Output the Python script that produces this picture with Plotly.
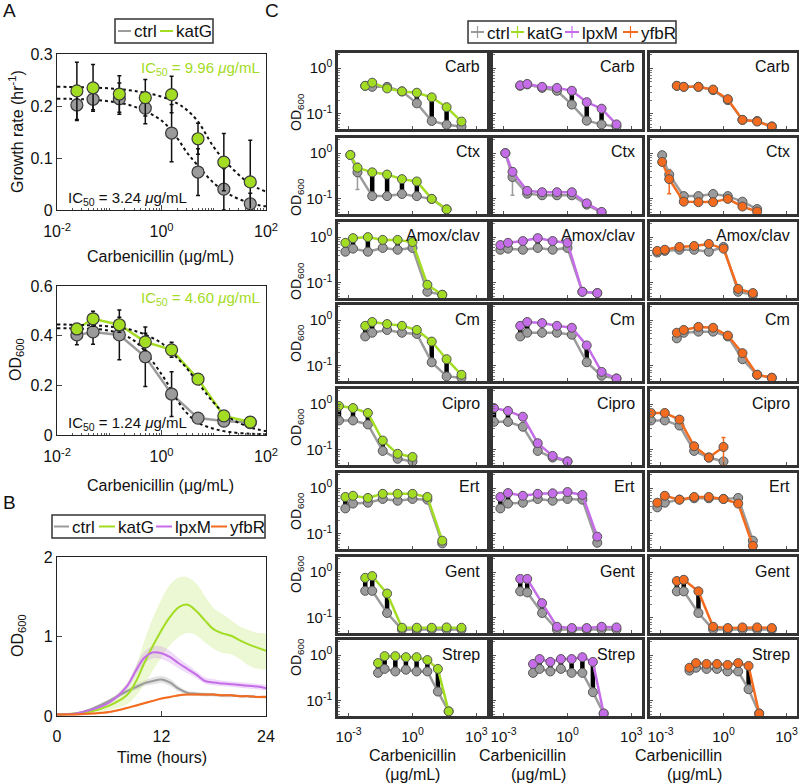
import plotly.graph_objects as go

W, H = 799, 783
FONT = "Liberation Sans, Arial, sans-serif"

GREY = "#9b9b9b"
EDGE = "#3a3a3a"
COLORS = {"katG": "#a2dc23", "lpxM": "#c56de8", "yfbR": "#f26b1f"}
MUTANTS = ["katG", "lpxM", "yfbR"]

# ---------------- panel A data ----------------
conc_a = [0.024, 0.049, 0.156, 0.49, 1.56, 5.0, 15.6, 50]
growth_ctrl = [0.202, 0.213, 0.214, 0.196, 0.148, 0.073, 0.040, 0.012]
growth_ctrl_err = [0.03, 0.02, 0.03, 0.03, 0.055, 0.045, 0.04, 0.02]
growth_katg = [0.229, 0.235, 0.223, 0.216, 0.222, 0.137, 0.092, 0.054]
growth_katg_err = [0.055, 0.045, 0.035, 0.035, 0.035, 0.03, 0.055, 0.08]
od_ctrl = [0.403, 0.415, 0.403, 0.315, 0.165, 0.068, 0.056, 0.050]
od_ctrl_err = [0.04, 0.05, 0.10, 0.12, 0.09, 0.01, 0.01, 0.008]
od_katg = [0.427, 0.468, 0.444, 0.375, 0.343, 0.225, 0.077, 0.052]
od_katg_err = [0.015, 0.03, 0.03, 0.035, 0.03, 0.02, 0.01, 0.008]

fit_x = [0.01, 0.03, 0.1, 0.3, 1, 2, 3, 5, 10, 20, 50, 100]
fit_growth_ctrl = [0.214, 0.213, 0.209, 0.199, 0.172, 0.138, 0.112, 0.085, 0.052, 0.030, 0.013, 0.007]
fit_growth_katg = [0.237, 0.236, 0.234, 0.229, 0.218, 0.205, 0.193, 0.170, 0.121, 0.085, 0.050, 0.035]
fit_od_ctrl = [0.430, 0.428, 0.420, 0.380, 0.245, 0.140, 0.090, 0.050, 0.025, 0.012, 0.005, 0.003]
fit_od_katg = [0.445, 0.443, 0.437, 0.420, 0.370, 0.310, 0.270, 0.210, 0.130, 0.070, 0.030, 0.016]

# ---------------- panel B data ----------------
time_h = [0, 2, 4, 6, 8, 9, 10, 11, 12, 13, 14, 15, 16, 17, 18, 19, 20, 21, 22, 23, 24]
curve_ctrl = [0.02, 0.03, 0.09, 0.19, 0.31, 0.36, 0.41, 0.44, 0.46, 0.42, 0.34, 0.29, 0.28, 0.27, 0.27, 0.26, 0.26, 0.25, 0.25, 0.24, 0.24]
curve_ctrl_hi = [0.02, 0.03, 0.10, 0.21, 0.33, 0.39, 0.44, 0.48, 0.50, 0.46, 0.37, 0.31, 0.30, 0.29, 0.28, 0.27, 0.27, 0.26, 0.26, 0.25, 0.25]
curve_ctrl_lo = [0.01, 0.02, 0.08, 0.17, 0.29, 0.33, 0.38, 0.40, 0.42, 0.38, 0.31, 0.27, 0.26, 0.25, 0.25, 0.24, 0.24, 0.24, 0.23, 0.23, 0.23]
curve_katg = [0.02, 0.03, 0.06, 0.13, 0.26, 0.42, 0.66, 0.88, 1.08, 1.25, 1.37, 1.40, 1.32, 1.20, 1.09, 1.04, 1.01, 0.95, 0.90, 0.86, 0.82]
curve_katg_hi = [0.03, 0.04, 0.08, 0.20, 0.40, 0.60, 0.92, 1.22, 1.46, 1.65, 1.74, 1.74, 1.66, 1.50, 1.35, 1.28, 1.20, 1.12, 1.08, 1.04, 1.02]
curve_katg_lo = [0.01, 0.02, 0.04, 0.08, 0.15, 0.25, 0.40, 0.58, 0.75, 0.90, 1.00, 1.05, 1.02, 0.93, 0.85, 0.80, 0.78, 0.72, 0.64, 0.60, 0.60]
curve_lpxm = [0.02, 0.03, 0.08, 0.17, 0.37, 0.56, 0.73, 0.80, 0.79, 0.74, 0.66, 0.59, 0.52, 0.44, 0.42, 0.41, 0.40, 0.39, 0.38, 0.37, 0.35]
curve_lpxm_hi = [0.02, 0.03, 0.09, 0.19, 0.40, 0.61, 0.80, 0.87, 0.87, 0.81, 0.72, 0.64, 0.56, 0.48, 0.46, 0.44, 0.43, 0.42, 0.41, 0.40, 0.38]
curve_lpxm_lo = [0.01, 0.02, 0.07, 0.15, 0.34, 0.51, 0.66, 0.73, 0.72, 0.67, 0.60, 0.54, 0.48, 0.41, 0.39, 0.38, 0.37, 0.36, 0.35, 0.34, 0.33]
curve_yfbr = [0.02, 0.02, 0.03, 0.05, 0.10, 0.13, 0.16, 0.19, 0.22, 0.24, 0.26, 0.27, 0.27, 0.27, 0.27, 0.26, 0.26, 0.25, 0.25, 0.24, 0.24]
curve_yfbr_hi = [0.02, 0.03, 0.04, 0.06, 0.11, 0.14, 0.17, 0.20, 0.23, 0.25, 0.27, 0.28, 0.28, 0.28, 0.28, 0.27, 0.27, 0.26, 0.26, 0.25, 0.25]
curve_yfbr_lo = [0.01, 0.01, 0.02, 0.04, 0.09, 0.12, 0.15, 0.18, 0.21, 0.23, 0.25, 0.26, 0.26, 0.26, 0.26, 0.25, 0.25, 0.24, 0.24, 0.23, 0.23]

# ---------------- panel C data ----------------
antibiotics = ["Carb", "Ctx", "Amox/clav", "Cm", "Cipro", "Ert", "Gent", "Strep"]
conc_c = {
    "Carb": [0.006, 0.0128, 0.064, 0.32, 1.6, 8, 40, 200],
    "Ctx": [0.0012, 0.0026, 0.0128, 0.064, 0.32, 1.6, 8, 40],
    "Amox/clav": [0.0007, 0.0016, 0.008, 0.04, 0.2, 1, 5, 25],
    "Cm": [0.006, 0.0128, 0.064, 0.32, 1.6, 8, 40, 200],
    "Cipro": [0.00035, 0.0016, 0.008, 0.04, 0.2, 1],
    "Ert": [0.0007, 0.0016, 0.008, 0.04, 0.2, 1, 5, 25],
    "Gent": [0.006, 0.0128, 0.064, 0.32, 1.6, 8, 40, 200],
    "Strep": [0.024, 0.049, 0.156, 0.49, 1.56, 5, 15.6, 50],
}
# one list per column (katG, lpxM, yfbR experiments)
ctrl_c = {
    "Carb": [[0.41, 0.39, 0.39, 0.31, 0.17, 0.07, 0.058, 0.053],
             [0.41, 0.44, 0.37, 0.32, 0.16, 0.071, 0.059, 0.053],
             [0.41, 0.39, 0.39, 0.33, 0.20, 0.074, 0.07, 0.053]],
    "Ctx": [[0.91, 0.38, 0.115, 0.115, 0.128, 0.115, 0.10, 0.059],
            [1.0, 0.30, 0.13, 0.12, 0.12, 0.12, 0.075, 0.05],
            [0.90, 0.34, 0.115, 0.115, 0.128, 0.115, 0.087, 0.06]],
    "Amox/clav": [[0.48, 0.56, 0.48, 0.58, 0.53, 0.58, 0.064, 0.055],
                  [0.53, 0.56, 0.53, 0.58, 0.53, 0.58, 0.064, 0.06],
                  [0.46, 0.50, 0.53, 0.53, 0.48, 0.61, 0.064, 0.055]],
    "Cm": [[0.44, 0.53, 0.61, 0.53, 0.50, 0.12, 0.059, 0.055],
           [0.44, 0.53, 0.53, 0.53, 0.48, 0.12, 0.061, 0.053],
           [0.40, 0.53, 0.56, 0.56, 0.44, 0.14, 0.064, 0.055]],
    "Cipro": [[0.44, 0.44, 0.36, 0.095, 0.064, 0.056],
              [0.41, 0.41, 0.32, 0.095, 0.068, 0.056],
              [0.44, 0.44, 0.34, 0.095, 0.068, 0.056]],
    "Ert": [[0.36, 0.46, 0.48, 0.58, 0.53, 0.58, 0.56, 0.062],
            [0.36, 0.46, 0.48, 0.58, 0.53, 0.58, 0.56, 0.064],
            [0.38, 0.48, 0.56, 0.60, 0.60, 0.58, 0.61, 0.071]],
    "Gent": [[0.39, 0.39, 0.128, 0.056, 0.056, 0.056, 0.056, 0.056],
             [0.38, 0.36, 0.128, 0.056, 0.056, 0.056, 0.056, 0.056],
             [0.38, 0.38, 0.128, 0.056, 0.056, 0.056, 0.056, 0.056]],
    "Strep": [[0.41, 0.50, 0.44, 0.48, 0.44, 0.44, 0.16, 0.059],
              [0.41, 0.50, 0.44, 0.50, 0.41, 0.41, 0.155, 0.053],
              [0.46, 0.53, 0.50, 0.50, 0.44, 0.44, 0.18, 0.053]],
}
mut_c = {
    "Carb": [[0.41, 0.48, 0.36, 0.31, 0.29, 0.23, 0.14, 0.068],
             [0.42, 0.45, 0.39, 0.37, 0.32, 0.18, 0.13, 0.059],
             [0.41, 0.39, 0.39, 0.34, 0.21, 0.074, 0.068, 0.053]],
    "Ctx": [[0.91, 0.48, 0.38, 0.34, 0.27, 0.24, 0.10, 0.059],
            [1.0, 0.39, 0.15, 0.14, 0.14, 0.14, 0.08, 0.052],
            [0.64, 0.27, 0.087, 0.085, 0.085, 0.10, 0.068, 0.053]],
    "Amox/clav": [[0.75, 0.95, 1.0, 0.87, 0.87, 0.78, 0.091, 0.055],
                  [0.67, 0.75, 0.82, 0.95, 0.82, 0.75, 0.064, 0.06],
                  [0.50, 0.53, 0.61, 0.64, 0.71, 0.56, 0.074, 0.06]],
    "Cm": [[0.75, 0.91, 0.82, 0.75, 0.61, 0.34, 0.14, 0.064],
           [0.75, 0.91, 0.86, 0.75, 0.68, 0.28, 0.074, 0.053],
           [0.53, 0.61, 0.71, 0.68, 0.46, 0.19, 0.064, 0.055]],
    "Cipro": [[0.91, 0.82, 0.64, 0.16, 0.082, 0.07],
              [0.82, 0.71, 0.53, 0.14, 0.074, 0.056],
              [0.64, 0.64, 0.46, 0.12, 0.068, 0.116]],
    "Ert": [[0.64, 0.68, 0.61, 0.75, 0.75, 0.75, 0.64, 0.071],
            [0.64, 0.78, 0.68, 0.75, 0.77, 0.82, 0.71, 0.087],
            [0.48, 0.68, 0.56, 0.64, 0.64, 0.58, 0.46, 0.055]],
    "Gent": [[0.75, 0.82, 0.34, 0.061, 0.061, 0.061, 0.062, 0.061],
             [0.71, 0.71, 0.21, 0.064, 0.06, 0.06, 0.064, 0.062],
             [0.64, 0.68, 0.38, 0.064, 0.06, 0.062, 0.062, 0.06]],
    "Strep": [[0.67, 0.95, 0.95, 0.90, 0.90, 0.78, 0.50, 0.059],
              [0.64, 0.82, 0.71, 0.82, 0.82, 0.90, 0.71, 0.053],
              [0.53, 0.67, 0.64, 0.64, 0.61, 0.67, 0.58, 0.053]],
}
# indices of significant differences (black bars)
signif_c = {
    "Carb": [[4, 5, 6], [4, 5, 6], []],
    "Ctx": [[2, 3, 4, 5], [], []],
    "Amox/clav": [[0, 1, 2, 3, 4], [0, 1, 3, 4], []],
    "Cm": [[0, 1, 5, 6], [0, 1, 5], [5]],
    "Cipro": [[0, 1, 2, 3], [0, 1, 3], []],
    "Ert": [[0, 1], [0, 1], []],
    "Gent": [[0, 1, 2], [0, 1, 2], [0, 1, 2]],
    "Strep": [[0, 1, 2, 3, 4, 5, 6], [0, 1, 2, 3, 4, 5, 6], [5, 6]],
}
# (antibiotic, column, series, point index, error)
errors_c = [("Ctx", 0, "ctrl", 1, 0.22), ("Ctx", 1, "ctrl", 1, 0.18),
            ("Ctx", 2, "mut", 1, 0.14), ("Ctx", 2, "ctrl", 1, 0.1),
            ("Cipro", 2, "mut", 5, 0.07), ("Carb", 2, "mut", 4, 0.04)]


def px(x):
    return x / W


def py(y):
    return 1 - y / H


fig = go.Figure()
layout = {}
annotations = []
shapes = []


def add_axes(n, x0, x1, top, bottom, xopts, yopts):
    key = "" if n == 1 else str(n)
    xa = dict(domain=[px(x0), px(x1)], anchor="y" + key, showline=True, mirror=True,
              ticks="inside", showgrid=False, zeroline=False, automargin=False,
              tickfont=dict(family=FONT, size=16, color="#111"))
    ya = dict(domain=[py(bottom), py(top)], anchor="x" + key, showline=True, mirror=True,
              ticks="inside", showgrid=False, zeroline=False, automargin=False,
              tickfont=dict(family=FONT, size=16, color="#111"))
    xa.update(xopts)
    ya.update(yopts)
    layout["xaxis" + key] = xa
    layout["yaxis" + key] = ya
    return "x" + key, "y" + key


log_ticks_a = dict(type="log", range=[-2, 2], tickvals=[0.01, 1, 100],
                   ticktext=["10<sup>-2</sup>", "10<sup>0</sup>", "10<sup>2</sup>"],
                   linecolor="#222", linewidth=1.2, ticklen=5, ticklabelstandoff=7,
                   minor=dict(ticks="inside", ticklen=2, dtick="D1", tickcolor="#555"))

# ---- A top: growth rate
xa, ya = add_axes(1, 57, 266, 54, 210, log_ticks_a,
                  dict(range=[0, 0.3], tickvals=[0, 0.1, 0.2, 0.3], ticklen=5,
                       linecolor="#222", linewidth=1.2))
fig.add_trace(go.Scatter(x=fit_x, y=fit_growth_ctrl, mode="lines", line=dict(color="#111", dash="dot", width=2, shape="spline"), xaxis=xa, yaxis=ya, showlegend=False))
fig.add_trace(go.Scatter(x=fit_x, y=fit_growth_katg, mode="lines", line=dict(color="#111", dash="dot", width=2, shape="spline"), xaxis=xa, yaxis=ya, showlegend=False))
fig.add_trace(go.Scatter(x=conc_a, y=growth_ctrl, mode="markers",
                         error_y=dict(type="data", array=growth_ctrl_err, color="#111", thickness=1.5, width=2),
                         marker=dict(color=GREY, size=12, line=dict(color=EDGE, width=1.2)),
                         xaxis=xa, yaxis=ya, showlegend=False))
fig.add_trace(go.Scatter(x=conc_a, y=growth_katg, mode="markers",
                         error_y=dict(type="data", array=growth_katg_err, color="#111", thickness=1.5, width=2),
                         marker=dict(color=COLORS["katG"], size=12, line=dict(color=EDGE, width=1.2)),
                         xaxis=xa, yaxis=ya, showlegend=False))

# ---- A bottom: OD
xa, ya = add_axes(2, 57, 266, 286, 435, log_ticks_a,
                  dict(range=[0, 0.6], tickvals=[0, 0.2, 0.4, 0.6], ticklen=5,
                       linecolor="#222", linewidth=1.2))
fig.add_trace(go.Scatter(x=conc_a, y=od_ctrl, mode="lines", line=dict(color=GREY, width=2.5), xaxis=xa, yaxis=ya, showlegend=False))
fig.add_trace(go.Scatter(x=conc_a, y=od_katg, mode="lines", line=dict(color=COLORS["katG"], width=2.5), xaxis=xa, yaxis=ya, showlegend=False))
fig.add_trace(go.Scatter(x=fit_x, y=fit_od_ctrl, mode="lines", line=dict(color="#111", dash="dot", width=2, shape="spline"), xaxis=xa, yaxis=ya, showlegend=False))
fig.add_trace(go.Scatter(x=fit_x, y=fit_od_katg, mode="lines", line=dict(color="#111", dash="dot", width=2, shape="spline"), xaxis=xa, yaxis=ya, showlegend=False))
fig.add_trace(go.Scatter(x=conc_a, y=od_ctrl, mode="markers",
                         error_y=dict(type="data", array=od_ctrl_err, color="#111", thickness=1.5, width=2),
                         marker=dict(color=GREY, size=12, line=dict(color=EDGE, width=1.2)),
                         xaxis=xa, yaxis=ya, showlegend=False))
fig.add_trace(go.Scatter(x=conc_a, y=od_katg, mode="markers",
                         error_y=dict(type="data", array=od_katg_err, color="#111", thickness=1.5, width=2),
                         marker=dict(color=COLORS["katG"], size=12, line=dict(color=EDGE, width=1.2)),
                         xaxis=xa, yaxis=ya, showlegend=False))

# ---- B: growth curves
xa, ya = add_axes(3, 57, 266, 557, 716,
                  dict(range=[0, 24], tickvals=[0, 12, 24], ticklen=5, linecolor="#222", linewidth=1.2,
                       ticklabelstandoff=6),
                  dict(range=[0, 2], tickvals=[0, 1, 2], ticklen=5, linecolor="#222", linewidth=1.2))
band_fill = {"ctrl": "rgba(150,150,150,0.25)", "katG": "rgba(170,225,60,0.22)",
             "lpxM": "rgba(200,120,235,0.25)", "yfbR": "rgba(242,107,31,0.25)"}
curves = [("ctrl", GREY, curve_ctrl, curve_ctrl_hi, curve_ctrl_lo),
          ("katG", COLORS["katG"], curve_katg, curve_katg_hi, curve_katg_lo),
          ("lpxM", COLORS["lpxM"], curve_lpxm, curve_lpxm_hi, curve_lpxm_lo),
          ("yfbR", COLORS["yfbR"], curve_yfbr, curve_yfbr_hi, curve_yfbr_lo)]
for name, col, mid, hi, lo in curves:
    fig.add_trace(go.Scatter(x=time_h + time_h[::-1], y=hi + lo[::-1], fill="toself",
                             fillcolor=band_fill[name], line=dict(width=0.5, color=band_fill[name], shape="spline"),
                             mode="lines", xaxis=xa, yaxis=ya, showlegend=False, hoverinfo="skip"))
for name, col, mid, hi, lo in curves:
    fig.add_trace(go.Scatter(x=time_h, y=mid, mode="lines", line=dict(color=col, width=2, shape="spline"),
                             xaxis=xa, yaxis=ya, showlegend=False))

# ---- C: grid of panels
col_x = [(338, 487), (493, 642), (650, 797)]
row_top = [53, 138, 222, 305, 389, 473, 557, 640]
row_h = 76
n = 4
for r, ab in enumerate(antibiotics):
    for c, mut in enumerate(MUTANTS):
        x0, x1 = col_x[c]
        top = row_top[r]
        bottom_row = r == len(antibiotics) - 1
        xopts = dict(type="log", range=[-3.5, 3.5], tickvals=[1e-3, 1, 1e3],
                     ticktext=["10<sup>-3</sup>", "10<sup>0</sup>", "10<sup>3</sup>"],
                     showticklabels=bottom_row, ticklen=3, linecolor="#333", linewidth=2.5,
                     tickcolor="#555", ticklabelstandoff=5,
                     tickfont=dict(family=FONT, size=15, color="#111"))
        yopts = dict(type="log", range=[-1.33, 0.33], tickvals=[0.1, 1],
                     ticktext=["10<sup>-1</sup>", "10<sup>0</sup>"],
                     showticklabels=(c == 0), ticklen=3, linecolor="#333", linewidth=2.5,
                     tickcolor="#555", tickfont=dict(family=FONT, size=15, color="#111"),
                     minor=dict(ticks="inside", ticklen=2, dtick="D1", tickcolor="#777"))
        xa, ya = add_axes(n, x0, x1, top, top + row_h, xopts, yopts)
        n += 1
        xs = conc_c[ab]
        yc = ctrl_c[ab][c]
        ym = mut_c[ab][c]
        bx, by = [], []
        for i in signif_c[ab][c]:
            bx += [xs[i], xs[i], None]
            by += [yc[i], ym[i], None]
        if bx:
            fig.add_trace(go.Scatter(x=bx, y=by, mode="lines", line=dict(color="#000", width=4.5),
                                     xaxis=xa, yaxis=ya, showlegend=False, hoverinfo="skip"))
        err_ctrl = [0] * len(xs)
        err_mut = [0] * len(xs)
        for e_ab, e_c, e_s, e_i, e_v in errors_c:
            if e_ab == ab and e_c == c:
                (err_ctrl if e_s == "ctrl" else err_mut)[e_i] = e_v
        fig.add_trace(go.Scatter(x=xs, y=yc, mode="lines+markers",
                                 line=dict(color=GREY, width=2.5),
                                 marker=dict(color=GREY, size=9, line=dict(color="#555", width=1)),
                                 error_y=dict(type="data", array=err_ctrl, color=GREY, thickness=1.5, width=2),
                                 xaxis=xa, yaxis=ya, showlegend=False))
        fig.add_trace(go.Scatter(x=xs, y=ym, mode="lines+markers",
                                 line=dict(color=COLORS[mut], width=2.5),
                                 marker=dict(color=COLORS[mut], size=9, line=dict(color="#555", width=1)),
                                 error_y=dict(type="data", array=err_mut, color=COLORS[mut], thickness=1.5, width=2),
                                 xaxis=xa, yaxis=ya, showlegend=False))
        annotations.append(dict(x=px(x1 - 5), y=py(top + 14), xref="paper", yref="paper",
                                text=ab, showarrow=False, xanchor="right", yanchor="middle",
                                font=dict(family=FONT, size=16, color="#111")))
        if c == 0:
            annotations.append(dict(x=px(297), y=py(top + row_h / 2), xref="paper", yref="paper",
                                    text="OD<sub>600</sub>", textangle=-90, showarrow=False,
                                    font=dict(family=FONT, size=14, color="#111")))
        if bottom_row:
            for line_txt, line_y in (("Carbenicillin", 755), ("(\u03bcg/mL)", 774)):
                annotations.append(dict(x=px((x0 + x1) / 2), y=py(line_y), xref="paper", yref="paper",
                                        text=line_txt, showarrow=False, yanchor="middle",
                                        font=dict(family=FONT, size=16, color="#111")))


def txt(x, y, s, size=16, color="#111", anchor="center", angle=0):
    annotations.append(dict(x=px(x), y=py(y), xref="paper", yref="paper", text=s, showarrow=False,
                            xanchor=anchor, yanchor="middle", textangle=angle,
                            font=dict(family=FONT, size=size, color=color)))


# panel letters
txt(9, 11, "A", 19)
txt(9, 502, "B", 19)
txt(272, 11, "C", 19)

# axis titles panel A / B
txt(16, 132, "Growth rate (hr<sup>-1</sup>)", 16, angle=-90)
txt(16, 360, "OD<sub>600</sub>", 16, angle=-90)
txt(18, 636, "OD<sub>600</sub>", 16, angle=-90)
txt(160, 257, "Carbenicillin (\u03bcg/mL)", 16)
txt(160, 485, "Carbenicillin (\u03bcg/mL)", 16)
txt(162, 757, "Time (hours)", 16)

# IC50 labels
txt(262, 68, "IC<sub>50</sub> = 9.96 <i>\u03bc</i>g/mL", 15, COLORS["katG"], "right")
txt(66, 198, "IC<sub>50</sub> = 3.24 <i>\u03bc</i>g/mL", 15, "#111", "left")
txt(262, 298, "IC<sub>50</sub> = 4.60 <i>\u03bc</i>g/mL", 15, COLORS["katG"], "right")
txt(66, 423, "IC<sub>50</sub> = 1.24 <i>\u03bc</i>g/mL", 15, "#111", "left")


def legend_box(x0, x1, y0, y1, items, bars=False):
    shapes.append(dict(type="rect", xref="paper", yref="paper", x0=px(x0), x1=px(x1),
                       y0=py(y1), y1=py(y0), line=dict(color="#333", width=1.5), fillcolor="white"))
    ym = (y0 + y1) / 2
    for lx0, lx1, col, label in items:
        shapes.append(dict(type="line", xref="paper", yref="paper", x0=px(lx0), x1=px(lx1),
                           y0=py(ym), y1=py(ym), line=dict(color=col, width=2)))
        if bars:
            xc = (lx0 + lx1) / 2
            shapes.append(dict(type="line", xref="paper", yref="paper", x0=px(xc), x1=px(xc),
                               y0=py(ym - 6), y1=py(ym + 6), line=dict(color=col, width=1.2)))
        txt(lx1 + 1, ym + 1, label, 17, "#111", "left")


legend_box(115, 213, 19, 43, [(118, 131, GREY, "ctrl"), (160, 173, COLORS["katG"], "katG")])
legend_box(52, 265, 515, 538, [(54, 69, GREY, "ctrl"), (99, 115, COLORS["katG"], "katG"),
                               (156, 172, COLORS["lpxM"], "lpxM"), (211, 227, COLORS["yfbR"], "yfbR")])
legend_box(468, 676, 21, 43, [(471, 484, GREY, "ctrl"), (511, 524, COLORS["katG"], "katG"),
                              (565, 579, COLORS["lpxM"], "lpxM"), (623, 638, COLORS["yfbR"], "yfbR")], bars=True)

fig.update_layout(**layout)
fig.update_layout(width=W, height=H, margin=dict(l=0, r=0, t=0, b=0, pad=0), autosize=False,
                  paper_bgcolor="white", plot_bgcolor="white",
                  font=dict(family=FONT, color="#111"),
                  annotations=annotations, shapes=shapes, showlegend=False)
# drop the page's default body margin so the figure sits at the window's corner
fig.write_html("out.html", config={"displayModeBar": False},
               post_script="document.body.style.margin='0px';")
